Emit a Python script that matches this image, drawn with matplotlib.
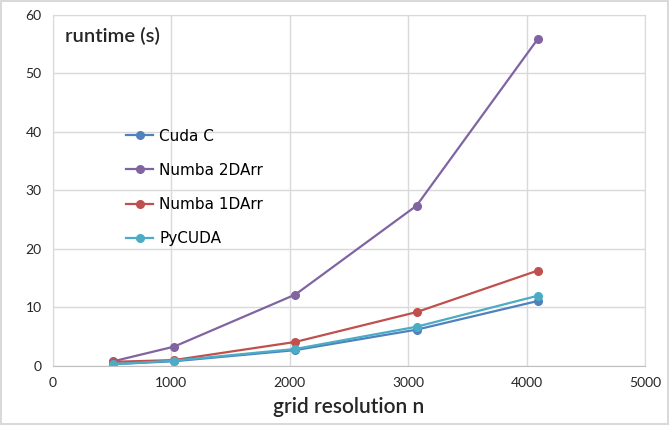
import numpy as np
import matplotlib.pyplot as plt

n = [512, 1024, 2048, 3072, 4096]
cuda_c = [0.3, 0.8, 2.7, 6.2, 11.1]
numba_2d = [0.8, 3.3, 12.2, 27.4, 55.9]
numba_1d = [0.7, 1.0, 4.1, 9.2, 16.3]
pycuda = [0.3, 0.9, 2.9, 6.7, 12.0]

series = [
    ("Cuda C", cuda_c, "#4f81bd"),
    ("Numba 2DArr", numba_2d, "#8064a2"),
    ("Numba 1DArr", numba_1d, "#c0504d"),
    ("PyCUDA", pycuda, "#4bacc6"),
]

fig = plt.figure(figsize=(6.69, 4.25), dpi=100, linewidth=1.5, edgecolor="#d9d9d9")
ax = fig.add_axes([0.079, 0.139, 0.885, 0.826])

for name, vals, col in series:
    ax.plot(n, vals, color=col, marker="o", markersize=5.5, linewidth=1.6, label=name)

ax.set_xlim(0, 5000)
ax.set_ylim(0, 60)
ax.set_xticks(np.arange(0, 5001, 1000))
ax.set_yticks(np.arange(0, 61, 10))
ax.grid(True, color="#d9d9d9", linewidth=1)
ax.set_axisbelow(True)
for s in ax.spines.values():
    s.set_color("#d9d9d9")
ax.spines["bottom"].set_color("#bfbfbf")
ax.tick_params(length=0, pad=8, labelsize=10, colors="#262626")
for lab in ax.get_xticklabels() + ax.get_yticklabels():
    lab.set_family("Lato")

ax.set_xlabel("grid resolution n", fontsize=15, family="Lato", weight="semibold",
              color="#262626", labelpad=6)
ax.text(0.02, 0.94, "runtime (s)", transform=ax.transAxes, fontsize=14.5,
        family="Lato", weight="semibold", color="#262626", va="center", ha="left")

ax.legend(loc="upper left", bbox_to_anchor=(0.1, 0.715), frameon=False, fontsize=11,
          labelspacing=1.25, handlelength=1.8, handletextpad=0.4)

fig.savefig("out.png", dpi=100)
